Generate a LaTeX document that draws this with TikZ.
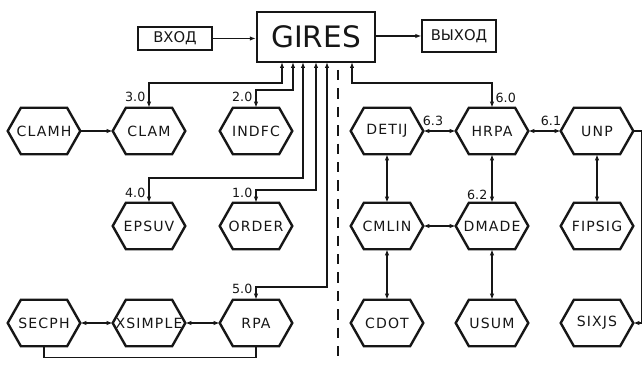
\documentclass[tikz,border=0pt]{standalone}
\usepackage{fontspec}
\setmainfont{DejaVu Sans}
\newfontfamily\drawfont[LetterSpace=8]{DejaVu Sans}
\usetikzlibrary{arrows.meta}
\definecolor{ink}{HTML}{161616}
\tikzset{
  link/.style={{Latex[length=1.5mm,width=1.1mm]}-{Latex[length=1.5mm,width=1.1mm]},draw=ink,line width=.9pt},
  call/.style={-{Latex[length=1.5mm,width=1.1mm]},draw=ink,line width=.9pt},
  plain/.style={draw=ink,line width=.9pt},
  divider/.style={draw=ink,line width=1pt,dash pattern=on 2.6mm off 2mm},
  mainbox/.style={draw=ink,line width=1.6pt,minimum width=2.95cm,minimum height=1.25cm,
    inner sep=0pt,font=\fontsize{21}{24}\selectfont},
  iobox/.style={draw=ink,line width=1.4pt,minimum width=1.83cm,inner sep=0pt,
    font=\fontsize{10.5}{12}\selectfont},
  hexbox/.style={minimum width=1.8cm,minimum height=1.15cm,inner sep=0pt,
    font=\drawfont\fontsize{10}{11}\selectfont},
  hexline/.style={draw=ink,line width=1.7pt,line join=miter},
  num/.style={font=\fontsize{9}{10}\selectfont,inner sep=1pt}
}
\newcommand{\hexin}{.33cm}
\newcommand{\hexnode}[4]{%
  \node[hexbox] (#1) at (#2,#3) {#4};
  \draw[hexline] (#1.west) -- ([xshift=\hexin]#1.north west) -- ([xshift=-\hexin]#1.north east)
    -- (#1.east) -- ([xshift=-\hexin]#1.south east) -- ([xshift=\hexin]#1.south west) -- cycle;
}

\begin{document}
\begin{tikzpicture}[x=.025cm,y=-.025cm,every node/.style={text=ink}]
  \useasboundingbox (0,0) rectangle (644,365);

  % Main program with input and output.
  \node[mainbox] (gires) at (316,37) {GIRES};
  \node[iobox,minimum height=.575cm] (vhod) at (175,38.5) {ВХОД};
  \node[iobox,minimum height=.8cm] (vyhod) at (459,36) {ВЫХОД};
  \draw[call] (vhod.east) -- (vhod.east -| gires.west);
  \draw[call] (gires.east |- vyhod.west) -- (vyhod.west);

  % Left group.
  \hexnode{clamh}{44}{131}{CLAMH}
  \hexnode{clam}{149}{131}{CLAM}
  \hexnode{indfc}{256}{131}{INDFC}
  \hexnode{epsuv}{149}{226}{EPSUV}
  \hexnode{order}{256}{226}{ORDER}
  \hexnode{secph}{44}{323}{SECPH}
  \hexnode{xsimple}{149}{323}{XSIMPLE}
  \hexnode{rpa}{256}{323}{RPA}

  % Right group.
  \hexnode{detij}{387}{131}{DETIJ}
  \hexnode{hrpa}{492}{131}{HRPA}
  \hexnode{unp}{597}{131}{UNP}
  \hexnode{cmlin}{387}{226}{CMLIN}
  \hexnode{dmade}{492}{226}{DMADE}
  \hexnode{fipsig}{597}{226}{FIPSIG}
  \hexnode{cdot}{387}{323}{CDOT}
  \hexnode{usum}{492}{323}{USUM}
  \hexnode{sixjs}{597}{323}{SIXJS}

  % Calls leaving the bottom of GIRES.
  \coordinate (t30) at (282,62);
  \coordinate (t20) at (293,62);
  \coordinate (t40) at (303,62);
  \coordinate (t10) at (316,62);
  \coordinate (t50) at (327,62);
  \coordinate (t60) at (352,62);
  \draw[link] (t30) -- ++(0,21) -| (clam.north);
  \draw[link] (t20) -- ++(0,28) -| (indfc.north);
  \draw[link] (t40) -- ++(0,116) -| (epsuv.north);
  \draw[link] (t10) -- ++(0,128) -| (order.north);
  \draw[link] (t50) -- ++(0,225) -| (rpa.north);
  \draw[link] (t60) -- ++(0,21) -| (hrpa.north);
  \node[num,anchor=east] (n30) at (147,97) {3.0};
  \node[num,anchor=east] (n20) at (254,97) {2.0};
  \node[num,anchor=east] (n40) at (147,193) {4.0};
  \node[num,anchor=east] (n10) at (254,193) {1.0};
  \node[num,anchor=east] (n50) at (254,289) {5.0};
  \node[num,anchor=west] (n60) at (494,98) {6.0};

  % Left group links.
  \draw[call] (clamh.east) -- (clam.west);
  \draw[link] (secph.east) -- (xsimple.west);
  \draw[link] (xsimple.east) -- (rpa.west);
  \draw[plain] (secph.south) -- ++(0,11) -| (rpa.south);

  % Right group links.
  \draw[link] (detij.east) -- (hrpa.west);
  \draw[link] (hrpa.east) -- (unp.west);
  \draw[link] (detij.south) -- (cmlin.north);
  \draw[link] (hrpa.south) -- (dmade.north);
  \draw[link] (unp.south) -- (fipsig.north);
  \draw[link] (cmlin.east) -- (dmade.west);
  \draw[link] (cmlin.south) -- (cdot.north);
  \draw[link] (dmade.south) -- (usum.north);
  \draw[call] (unp.east) -- ++(8,0) |- (sixjs.east);
  \node[num] (n63) at (433,121) {6.3};
  \node[num] (n61) at (551,121) {6.1};
  \node[num,anchor=east] (n62) at (489,195) {6.2};

  % Divider between the two halves.
  \draw[divider] (338,70) -- (338,362);
\end{tikzpicture}
\end{document}
